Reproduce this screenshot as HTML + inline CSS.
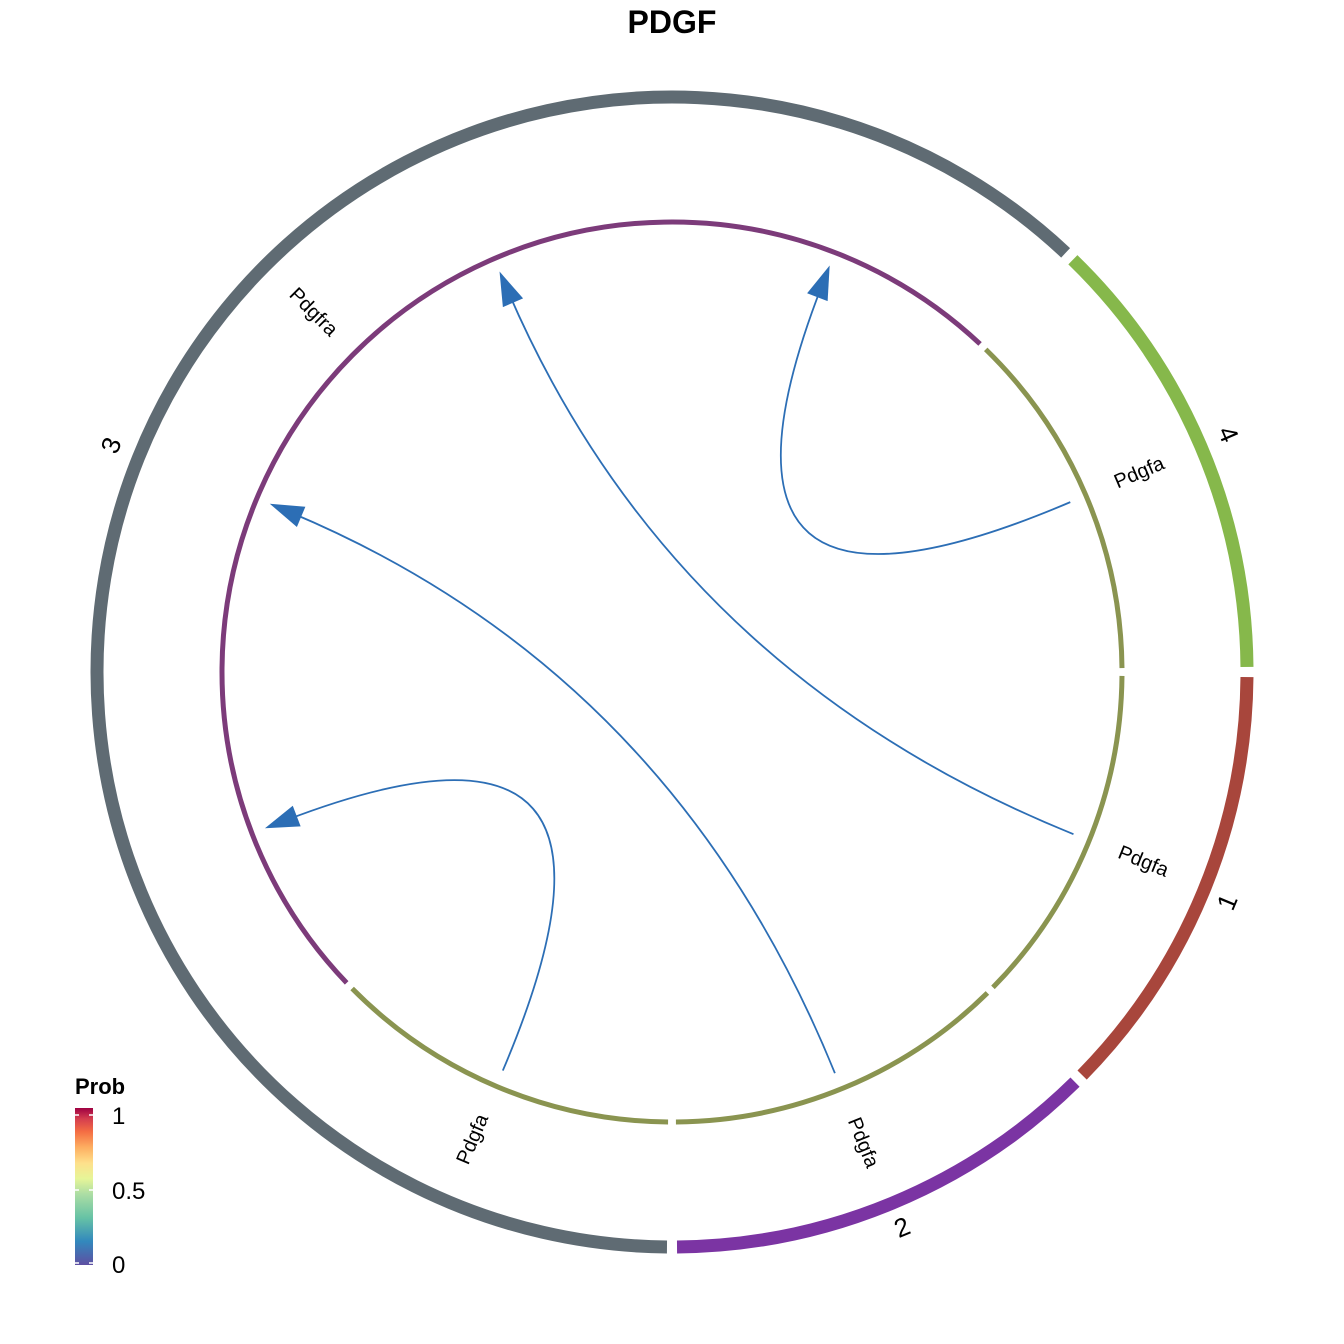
<!DOCTYPE html>
<html><head><meta charset="utf-8"><style>
body{margin:0;background:#fff}
svg{display:block;font-family:"Liberation Sans",Arial,sans-serif}
</style></head><body>
<svg width="1344" height="1344" viewBox="0 0 1344 1344">
<defs>
<linearGradient id="prob" x1="0" y1="1" x2="0" y2="0">
<stop offset="0" stop-color="#5e4fa2"/><stop offset="0.15" stop-color="#3288bd"/><stop offset="0.3" stop-color="#66c2a5"/>
<stop offset="0.45" stop-color="#abdda4"/><stop offset="0.55" stop-color="#e6f598"/><stop offset="0.65" stop-color="#fee08b"/>
<stop offset="0.75" stop-color="#fdae61"/><stop offset="0.85" stop-color="#f46d43"/><stop offset="0.93" stop-color="#d53e4f"/><stop offset="1" stop-color="#9e0142"/>
</linearGradient>
</defs>
<text x="672" y="33" text-anchor="middle" font-size="32" font-weight="bold">PDGF</text>
<g id="g"></g>
<g>
<text x="75" y="1094" font-size="22" font-weight="bold">Prob</text>
<rect x="75" y="1108" width="18" height="157" fill="url(#prob)"/>
<g stroke="#fff" stroke-width="1.5"><line x1="75" y1="1115" x2="79" y2="1115"/><line x1="89" y1="1115" x2="93" y2="1115"/><line x1="75" y1="1190" x2="79" y2="1190"/><line x1="89" y1="1190" x2="93" y2="1190"/><line x1="75" y1="1263" x2="79" y2="1263"/><line x1="89" y1="1263" x2="93" y2="1263"/></g>
<text x="112" y="1124" font-size="24">1</text>
<text x="112" y="1199" font-size="24">0.5</text>
<text x="112" y="1273" font-size="24">0</text>
</g>
</svg>
<script>
const sectorNames=["3","4","1","2"];
const sectorStart=[180,43.7,90,135];
const sectorEnd=[403.7,90,135,180];
const sectorColors=["#5f6b73","#86b84b","#a8463c","#7b34a3"];
const innerStart=[225.8,43.7,90,135,180];
const innerEnd=[403.7,90,135,180,225.8];
const innerColors=["#7c3b7a","#8a9450","#8a9450","#8a9450","#8a9450"];
const labelAngles=[315,67,112,158,203];
const labelTexts=["Pdgfra","Pdgfa","Pdgfa","Pdgfa","Pdgfa"];
const chordSource=[66.9,112,157.9,203];
const chordTarget=[21.2,336.7,292.7,249];
const chordProb=[0.1,0.1,0.1,0.1];
const CX=672,CY=672,NS="http://www.w3.org/2000/svg",g=document.getElementById('g');
function pt(a,r){const t=a*Math.PI/180;return [CX+r*Math.sin(t),CY-r*Math.cos(t)];}
function arc(a0,a1,r){const p=pt(a0,r),q=pt(a1,r);return `M${p[0]},${p[1]}A${r},${r} 0 ${a1-a0>180?1:0} 1 ${q[0]},${q[1]}`;}
function mk(tag,at){const e=document.createElementNS(NS,tag);for(const k in at)e.setAttribute(k,at[k]);g.appendChild(e);return e;}
sectorNames.forEach((n,i)=>{
 const e=mk('path',{d:arc(sectorStart[i]+0.5,sectorEnd[i]-0.5,575),fill:'none',stroke:sectorColors[i],'stroke-width':13});
 
 
 const m=(sectorStart[i]+sectorEnd[i])/2;let la=m%360;
 if(n==="3")la=292;
 const p=pt(la,603);let rot=la>90&&la<270?la-180:(la>=270?la-360:la);
 const t=mk('text',{x:p[0],y:p[1],'text-anchor':'middle','dominant-baseline':'middle','font-size':26,transform:`rotate(${rot} ${p[0]} ${p[1]})`});
 t.textContent=n;
 
 
});
innerStart.forEach((s,i)=>{
 const e=mk('path',{d:arc(s+0.5,innerEnd[i]-0.5,450),fill:'none',stroke:innerColors[i],'stroke-width':5});
 
 
});
labelAngles.forEach((a,i)=>{
 const p=pt(a,508);let rot=a-90;if(rot>90)rot-=180;if(rot>90)rot-=180;
 const t=mk('text',{x:p[0],y:p[1],'text-anchor':'middle','dominant-baseline':'middle','font-size':20,transform:`rotate(${rot} ${p[0]} ${p[1]})`});
 t.textContent=labelTexts[i];
 
 
});
chordSource.forEach((s,i)=>{
 const p=pt(s,433),q=pt(chordTarget[i],414);
 const e=mk('path',{d:`M${p[0]},${p[1]}Q${CX},${CY} ${q[0]},${q[1]}`,fill:'none',stroke:'#2c6eb5','stroke-width':1.8});
 
 
 const tip=pt(chordTarget[i],436);
 let vx=q[0]-CX,vy=q[1]-CY;const L=Math.hypot(vx,vy);vx/=L;vy/=L;
 const b=[tip[0]-vx*34,tip[1]-vy*34],w=11;
 const a=mk('polygon',{points:`${tip[0]},${tip[1]} ${b[0]-vy*w},${b[1]+vx*w} ${b[0]+vy*w},${b[1]-vx*w}`,fill:'#2c6eb5'});
 
 
});
</script>
</body></html>
